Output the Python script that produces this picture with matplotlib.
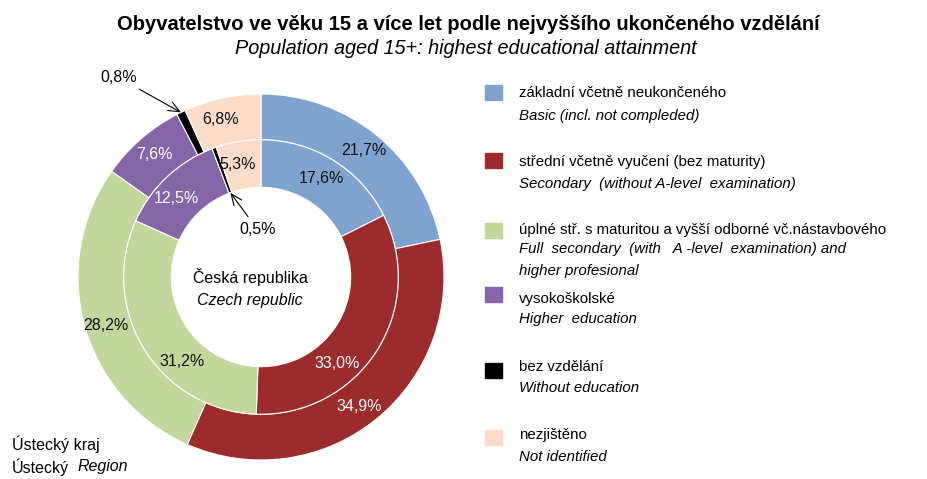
import numpy as np
import matplotlib
matplotlib.use('Agg')
import matplotlib.pyplot as plt

# -------- Data --------
kategorie = ['základní včetně neukončeného', 'střední včetně vyučení (bez maturity)',
             'úplné stř. s maturitou a vyšší odborné vč.nástavbového', 'vysokoškolské',
             'bez vzdělání', 'nezjištěno']
kategorie_en = ['Basic (incl. not compleded)', 'Secondary  (without A-level  examination)',
                'Full  secondary  (with   A -level  examination) and\nhigher profesional',
                'Higher  education', 'Without education', 'Not identified']
ustecky = [21.7, 34.9, 28.2, 7.6, 0.8, 6.8]     # outer ring - Ústecký kraj
cr = [17.6, 33.0, 31.2, 12.5, 0.5, 5.3]         # inner ring - Česká republika

barvy = ['#7FA2CF', '#9B2B2C', '#C3D69B', '#8466A8', '#000000', '#FBDCC8']
barva_textu = ['#111111', 'white', '#111111', 'white', None, '#111111']
# small shifts of the labels along the ring (deg), like in the original
posun_out = [0, -2, 2, 0, 0, 2]
posun_in = [0, -16, 15, 4, 0, 2]

plt.rcParams['font.family'] = ['Liberation Sans', 'DejaVu Sans']

W, H = 928, 479
fig = plt.figure(figsize=(W / 100, H / 100), dpi=100)

# pie axes: center ~(261, 277) px, radius ~183 px
cx, cy, R = 261, 277, 183
ax = fig.add_axes([(cx - R) / W, (H - cy - R) / H, 2 * R / W, 2 * R / H])

w_out, _ = ax.pie(ustecky, radius=1.0, startangle=90, counterclock=False, colors=barvy,
                  wedgeprops=dict(width=0.25, edgecolor='white', linewidth=0.8))
w_in, _ = ax.pie(cr, radius=0.75, startangle=90, counterclock=False, colors=barvy,
                 wedgeprops=dict(width=0.26, edgecolor='white', linewidth=0.8))
ax.set_xlim(-1, 1)
ax.set_ylim(-1, 1)
ax.set_aspect('equal')
ax.axis('off')


def fmt(v):
    return ('%.1f' % v).replace('.', ',') + '%'


def mid(w, d=0):
    return np.deg2rad((w.theta1 + w.theta2) / 2 + d)


# labels inside the wedges
for i, (w, v) in enumerate(zip(w_out, ustecky)):
    if barva_textu[i] is None:
        continue
    a = mid(w, posun_out[i])
    ax.text(0.89 * np.cos(a), 0.89 * np.sin(a), fmt(v), ha='center', va='center',
            fontsize=11.5, color=barva_textu[i])
for i, (w, v) in enumerate(zip(w_in, cr)):
    if barva_textu[i] is None:
        continue
    a = mid(w, posun_in[i])
    ax.text(0.63 * np.cos(a), 0.63 * np.sin(a), fmt(v), ha='center', va='center',
            fontsize=11.5, color=barva_textu[i])

# the tiny "bez vzdělání" slices get arrows
arr = dict(arrowstyle='->,head_length=0.7,head_width=0.3', lw=0.8, color='black',
           shrinkA=2, shrinkB=0)
a = mid(w_out[4])
ax.annotate(fmt(ustecky[4]), xy=(1.0 * np.cos(a), 1.0 * np.sin(a)), xytext=(-0.78, 1.09),
            ha='center', va='center', fontsize=11.5, arrowprops=arr, annotation_clip=False)
a = mid(w_in[4])
ax.annotate(fmt(cr[4]), xy=(0.49 * np.cos(a), 0.49 * np.sin(a)), xytext=(-0.02, 0.26),
            ha='center', va='center', fontsize=11.5, arrowprops=arr, annotation_clip=False)

ax.text(-0.06, 0.0, 'Česká republika', ha='center', va='center', fontsize=11.5)
ax.text(-0.06, -0.13, 'Czech republic', ha='center', va='center', fontsize=11.5, style='italic')


# -------- texts in figure pixels --------
def ftext(x, y, s, **kw):
    fig.text(x / W, 1 - y / H, s, **kw)


ftext(468, 24, 'Obyvatelstvo ve věku 15 a více let podle nejvyššího ukončeného vzdělání',
      ha='center', va='center', fontsize=14.5, fontweight='bold')
ftext(466, 49, 'Population aged 15+: highest educational attainment',
      ha='center', va='center', fontsize=14.3, style='italic')

ftext(12, 444, 'Ústecký kraj', ha='left', va='center', fontsize=11.5)
ftext(12, 467, 'Ústecký', ha='left', va='center', fontsize=11.5)
ftext(78, 467, 'Region', ha='left', va='center', fontsize=11.5, style='italic')

# legend (pixel rows)
ctverec_y = [85, 153, 223, 287, 363, 430]
cz_y = [93, 162, 230, 299, 367, 435]
en_y = [117, 185, 250, 320, 389, 458]
for i in range(len(kategorie)):
    fig.patches.append(plt.Rectangle((485 / W, 1 - (ctverec_y[i] + 15) / H), 17 / W, 15 / H,
                                     color=barvy[i], transform=fig.transFigure))
    ftext(519, cz_y[i], kategorie[i], ha='left', va='center', fontsize=10.8)
    ftext(519, en_y[i] - 8, kategorie_en[i], ha='left', va='top', fontsize=10.8,
          style='italic', linespacing=1.7)

fig.savefig('out.png', dpi=100)
